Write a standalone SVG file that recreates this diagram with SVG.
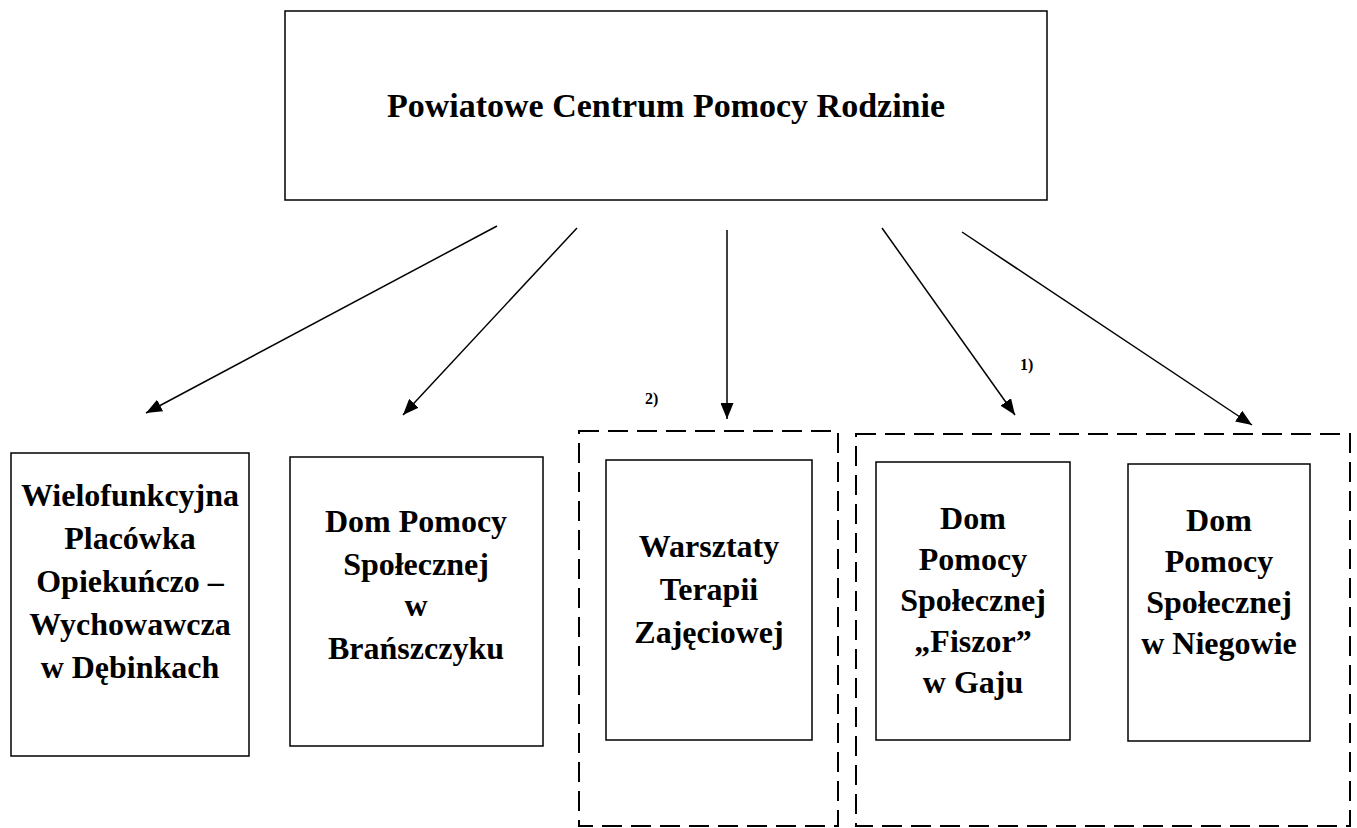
<svg xmlns="http://www.w3.org/2000/svg" width="1357" height="828" viewBox="0 0 1357 828">
<defs>
<marker id="ah" viewBox="0 0 16 13" refX="16" refY="6.5" markerWidth="16" markerHeight="13" markerUnits="userSpaceOnUse" orient="auto">
<path d="M0,0 L16,6.5 L0,13 z" fill="#000"/>
</marker>
<style>
.box{fill:#fff;stroke:#000;stroke-width:1.5}
.dash{fill:none;stroke:#000;stroke-width:2;stroke-dasharray:20 9}
.t{font-family:"Liberation Serif","Times New Roman",serif;font-weight:bold;font-size:32px;text-anchor:middle;fill:#000}
.title{font-family:"Liberation Serif","Times New Roman",serif;font-weight:bold;font-size:34px;text-anchor:middle;fill:#000}
.n{font-family:"Liberation Serif","Times New Roman",serif;font-weight:bold;font-size:16px;fill:#000}
.c{stroke:#000;stroke-width:1.5;fill:none;marker-end:url(#ah)}
</style>
</defs>
<rect width="1357" height="828" fill="#fff"/>
<g id="root">
<rect class="box" x="285" y="11" width="762" height="189"/>
<text class="title" x="666" y="117">Powiatowe Centrum Pomocy Rodzinie</text>
</g>
<g id="connectors">
<line class="c" x1="497" y1="226" x2="146" y2="413"/>
<line class="c" x1="577" y1="228" x2="403" y2="415"/>
<line class="c" x1="727" y1="230" x2="727" y2="419"/>
<line class="c" x1="882" y1="228" x2="1015" y2="415"/>
<line class="c" x1="962" y1="232" x2="1252" y2="425"/>
</g>
<g id="group2">
<rect class="dash" x="579" y="431" width="259" height="395"/>
<text class="n" x="645" y="404">2)</text>
</g>
<g id="group1">
<rect class="dash" x="856" y="434" width="494" height="392"/>
<text class="n" x="1020" y="370">1)</text>
</g>
<g id="n1">
<rect class="box" x="11" y="453" width="238" height="303"/>
<text class="t" x="130" y="506">Wielofunkcyjna</text>
<text class="t" x="130" y="549">Placówka</text>
<text class="t" x="130" y="592">Opiekuńczo –</text>
<text class="t" x="130" y="635">Wychowawcza</text>
<text class="t" x="130" y="678">w Dębinkach</text>
</g>
<g id="n2">
<rect class="box" x="290" y="457" width="253" height="289"/>
<text class="t" x="416" y="532">Dom Pomocy</text>
<text class="t" x="416" y="575">Społecznej</text>
<text class="t" x="416" y="616">w</text>
<text class="t" x="416" y="659">Brańszczyku</text>
</g>
<g id="n3">
<rect class="box" x="606" y="460" width="206" height="280"/>
<text class="t" x="709" y="557">Warsztaty</text>
<text class="t" x="709" y="600">Terapii</text>
<text class="t" x="709" y="643">Zajęciowej</text>
</g>
<g id="n4">
<rect class="box" x="876" y="462" width="194" height="278"/>
<text class="t" x="973" y="529">Dom</text>
<text class="t" x="973" y="570">Pomocy</text>
<text class="t" x="973" y="611">Społecznej</text>
<text class="t" x="973" y="652">„Fiszor”</text>
<text class="t" x="973" y="693">w Gaju</text>
</g>
<g id="n5">
<rect class="box" x="1128" y="464" width="182" height="277"/>
<text class="t" x="1219" y="531">Dom</text>
<text class="t" x="1219" y="572">Pomocy</text>
<text class="t" x="1219" y="613">Społecznej</text>
<text class="t" x="1219" y="654">w Niegowie</text>
</g>
</svg>
